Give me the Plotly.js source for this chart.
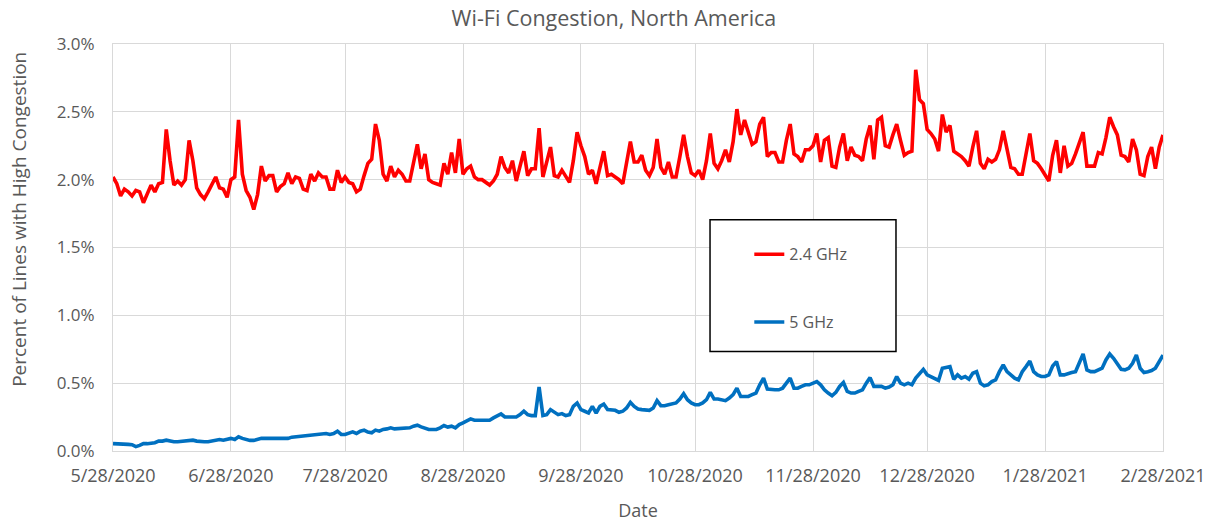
<!DOCTYPE html>
<html>
<head>
<meta charset="utf-8">
<script src="https://cdn.plot.ly/plotly-3.0.1.min.js"></script>
<style>html,body{margin:0;padding:0;background:#fff}#chart{width:1217px;height:523px}</style>
</head>
<body>
<div id="chart"></div>
<script>
// Daily series, 5/28/2020 .. 2/28/2021 (values in percent)
const startDate = "2020-05-28";
const ghz24 = [
2.02,1.97,1.88,1.93,1.91,1.88,1.92,1.91,1.83,1.89,1.96,1.91,1.97,1.98,2.37,2.14,1.96,1.99,1.96,2.00,
2.29,2.14,1.94,1.89,1.86,1.91,1.97,2.02,1.94,1.93,1.87,2.00,2.02,2.44,2.04,1.92,1.87,1.78,1.89,2.10,
1.99,2.03,2.03,1.91,1.95,1.97,2.05,1.97,2.02,2.01,1.93,1.92,2.04,1.99,2.05,2.02,2.02,1.93,1.93,2.07,
1.98,2.02,1.98,1.97,1.91,1.93,2.03,2.12,2.15,2.41,2.29,2.04,1.99,2.10,2.02,2.07,2.04,1.99,1.99,2.14,
2.26,2.08,2.19,2.00,1.98,1.97,1.96,2.12,2.04,2.20,2.05,2.30,2.04,2.08,2.10,2.02,2.00,2.00,1.98,1.96,
1.99,2.04,2.17,2.09,2.05,2.14,1.99,2.09,2.21,2.03,2.08,2.08,2.38,2.02,2.13,2.24,2.03,2.02,2.07,2.02,
1.98,2.14,2.35,2.25,2.17,2.04,2.07,1.97,2.09,2.21,2.03,2.04,2.02,2.00,1.97,2.12,2.28,2.13,2.13,2.18,
2.07,2.03,2.09,2.30,2.09,2.04,2.13,2.02,2.02,2.17,2.33,2.17,2.05,2.03,2.07,2.00,2.14,2.34,2.12,2.08,
2.14,2.22,2.13,2.28,2.52,2.33,2.44,2.35,2.26,2.28,2.41,2.46,2.17,2.20,2.20,2.13,2.13,2.29,2.41,2.19,
2.17,2.13,2.22,2.22,2.25,2.34,2.13,2.29,2.31,2.10,2.09,2.24,2.34,2.14,2.24,2.18,2.17,2.14,2.30,2.40,
2.15,2.44,2.46,2.25,2.24,2.33,2.41,2.29,2.18,2.20,2.21,2.81,2.59,2.56,2.37,2.34,2.30,2.21,2.48,2.35,
2.40,2.21,2.19,2.17,2.14,2.10,2.24,2.36,2.12,2.08,2.15,2.13,2.15,2.22,2.36,2.21,2.09,2.08,2.04,2.04,
2.20,2.34,2.14,2.12,2.08,2.04,1.99,2.18,2.29,2.05,2.25,2.10,2.12,2.19,2.28,2.35,2.10,2.10,2.10,2.20,
2.19,2.31,2.46,2.39,2.33,2.18,2.17,2.13,2.30,2.22,2.04,2.03,2.17,2.24,2.08,2.24,2.33
];
const ghz5 = [
0.054,0.054,0.051,0.051,0.049,0.046,0.032,0.041,0.054,0.054,0.056,0.061,0.073,0.073,0.080,0.073,0.068,0.068,0.071,0.073,
0.073,0.080,0.073,0.068,0.068,0.068,0.073,0.078,0.085,0.080,0.090,0.093,0.085,0.105,0.093,0.085,0.078,0.078,0.085,0.093,
0.093,0.093,0.093,0.093,0.093,0.093,0.093,0.102,0.105,0.105,0.105,0.110,0.117,0.117,0.122,0.122,0.129,0.122,0.129,0.146,
0.122,0.122,0.134,0.141,0.129,0.146,0.154,0.139,0.134,0.154,0.146,0.159,0.163,0.171,0.163,0.166,0.166,0.166,0.171,0.183,
0.190,0.178,0.171,0.159,0.159,0.159,0.171,0.188,0.176,0.183,0.171,0.195,0.207,0.224,0.237,0.227,0.227,0.227,0.227,0.227,
0.244,0.256,0.273,0.251,0.251,0.251,0.251,0.268,0.293,0.268,0.261,0.261,0.471,0.261,0.268,0.305,0.285,0.268,0.276,0.261,
0.268,0.329,0.354,0.305,0.293,0.280,0.329,0.280,0.329,0.346,0.305,0.300,0.300,0.285,0.293,0.317,0.359,0.329,0.310,0.305,
0.305,0.300,0.317,0.371,0.334,0.334,0.341,0.346,0.354,0.383,0.422,0.378,0.354,0.341,0.341,0.354,0.378,0.432,0.383,0.383,
0.378,0.371,0.390,0.415,0.463,0.402,0.402,0.402,0.415,0.427,0.488,0.537,0.456,0.451,0.451,0.451,0.463,0.500,0.537,0.463,
0.463,0.476,0.488,0.488,0.500,0.512,0.488,0.451,0.427,0.407,0.432,0.476,0.505,0.439,0.427,0.427,0.439,0.451,0.500,0.541,
0.476,0.476,0.476,0.463,0.471,0.488,0.549,0.500,0.488,0.500,0.488,0.537,0.573,0.602,0.561,0.549,0.537,0.520,0.610,0.617,
0.622,0.529,0.561,0.537,0.549,0.529,0.573,0.585,0.500,0.480,0.488,0.512,0.524,0.585,0.634,0.585,0.561,0.537,0.524,0.585,
0.622,0.663,0.585,0.561,0.549,0.549,0.561,0.627,0.659,0.561,0.561,0.573,0.578,0.585,0.646,0.715,0.598,0.585,0.585,0.598,
0.610,0.671,0.715,0.683,0.646,0.602,0.598,0.610,0.646,0.707,0.610,0.578,0.585,0.593,0.610,0.659,0.707
];
const tickDates = ["2020-05-28","2020-06-28","2020-07-28","2020-08-28","2020-09-28","2020-10-28","2020-11-28","2020-12-28","2021-01-28","2021-02-28"];
const tickLabels = ["5/28/2020","6/28/2020","7/28/2020","8/28/2020","9/28/2020","10/28/2020","11/28/2020","12/28/2020","1/28/2021","2/28/2021"];
const yTickVals = [0, 0.5, 1.0, 1.5, 2.0, 2.5, 3.0];
const yTickLabels = ["0.0%","0.5%","1.0%","1.5%","2.0%","2.5%","3.0%"];
const seriesNames = ["2.4 GHz","5 GHz"];
const yTitle = "Percent of Lines with High Congestion";

function dayList(n){
  const out=[]; const t0=Date.parse(startDate+"T00:00:00Z");
  for(let i=0;i<n;i++){ out.push(new Date(t0+i*86400000).toISOString().slice(0,10)); }
  return out;
}
const dates = dayList(ghz24.length);

const gray = "#595959";
const fontFam = "Open Sans, Noto Sans, sans-serif";

const traces = [
  {x: dates, y: ghz24, name: seriesNames[0], type: "scatter", mode: "lines",
   line: {color: "#FF0000", width: 3.6}, legendgroup: "a"},
  {x: dates, y: ghz5, name: seriesNames[1], type: "scatter", mode: "lines",
   line: {color: "#0070C0", width: 3.6}, legendgroup: "b"}
];

const layout = {
  width: 1217, height: 523,
  margin: {l: 113, r: 54, t: 44, b: 72},
  paper_bgcolor: "#fff", plot_bgcolor: "#fff",
  font: {family: fontFam, color: gray, size: 17},
  title: {text: "Wi-Fi Congestion, North America", font: {size: 21.5, color: gray},
          x: 0.5045, xanchor: "center", y: 0.965, yanchor: "middle"},
  xaxis: {
    type: "date", range: ["2020-05-28", "2021-02-28"],
    tickvals: tickDates, ticktext: tickLabels, tickangle: 0,
    showgrid: true, gridcolor: "#D9D9D9", gridwidth: 1,
    showline: true, linecolor: "#D9D9D9", mirror: true,
    zeroline: false, ticks: "", ticklabelstandoff: 8,
    tickfont: {size: 18, color: gray},
    title: {text: "Date", font: {size: 18, color: gray}, standoff: 18}
  },
  yaxis: {
    range: [0, 3.0], tickvals: yTickVals, ticktext: yTickLabels,
    showgrid: true, gridcolor: "#D9D9D9", gridwidth: 1,
    showline: true, linecolor: "#D9D9D9", mirror: true,
    zeroline: false, ticks: "", ticklabelstandoff: 14,
    tickfont: {size: 17, color: gray}
  },
  annotations: [{text: yTitle, textangle: -90, xref: "paper", yref: "paper",
                 x: -0.0895, y: 0.568, xanchor: "center", yanchor: "middle",
                 showarrow: false, font: {size: 19, color: gray}}],
  showlegend: true,
  legend: {x: 0.606, xanchor: "left", y: 0.525, yanchor: "top",
           bgcolor: "rgba(0,0,0,0)", borderwidth: 0,
           traceorder: "grouped", tracegroupgap: 44,
           font: {size: 16, color: gray}},
  shapes: [{type: "rect", xref: "paper", yref: "paper",
            x0: 0.5686, x1: 0.7457, y0: 0.2445, y1: 0.5683,
            line: {color: "#000", width: 1.5}, fillcolor: "#fff", layer: "above"}]
};

Plotly.newPlot("chart", traces, layout, {displayModeBar: false, responsive: false});
</script>
</body>
</html>
